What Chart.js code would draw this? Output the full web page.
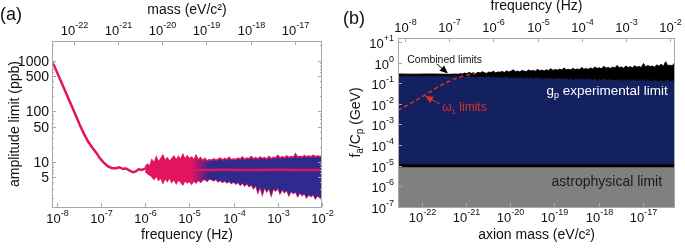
<!DOCTYPE html>
<html>
<head>
<meta charset="utf-8">
<script src="https://cdn.jsdelivr.net/npm/chart.js@4.4.0/dist/chart.umd.min.js"></script>
<style>
  html, body { margin: 0; padding: 0; background: #fff; }
  #wrap { position: relative; width: 685px; height: 248px; }
  canvas { position: absolute; top: 0; }
  #chartA { left: 0; }
  #chartB { left: 340px; }
</style>
</head>
<body>
<div id="wrap">
  <canvas id="chartA" width="340" height="248"></canvas>
  <canvas id="chartB" width="345" height="248"></canvas>
</div>
<script>
// Planck constant, used to place the mass axis against frequency
const H_EV_S = 4.135667e-15;

// ---- panel (a): amplitude limit (ppb) vs frequency (log10 Hz) ----
const A_LINE_LOGF = [-8.11, -7.8, -7.6, -7.48, -7.4, -7.3, -7.2, -7.1, -7.03, -6.95,
                     -6.85, -6.75, -6.65, -6.6, -6.55, -6.5, -6.45, -6.4, -6.35, -6.28,
                     -6.22, -6.15, -6.08, -6.0, -5.5, -5.0, -4.6, -4.2, -3.8, -3.4,
                     -3.0, -2.6, -2.2, -2.0];
const A_LINE_PPB = [1000, 240, 95, 54, 38, 26, 19.5, 15, 12, 10,
                    8.3, 7.6, 7.6, 7.9, 7.7, 7.3, 7.5, 7.2, 6.8, 6.3,
                    6.5, 7.2, 7.0, 7.5, 7.3, 7.1, 7.0, 7.05, 7.0, 7.0,
                    7.05, 7.0, 7.0, 7.0];

// noise band, sampled from log f = -6.0 in steps of 0.05
const A_BAND_LOGF0 = -6.0;
const A_BAND_STEP = 0.05;
const A_BAND_HI = [8.0, 9.0, 8.2, 11.0, 9.5, 12.5, 10.0, 11.5, 13.5, 10.5,
                   12.0, 10.2, 11.5, 13.0, 10.8, 12.8, 11.0, 14.0, 11.2, 13.2,
                   11.5, 12.5, 10.8, 13.5, 11.0, 12.2, 10.6, 11.8, 10.5, 11.2,
                   10.8, 11.6, 10.9, 11.4, 12.0, 11.0, 11.8, 11.2, 12.4, 11.0,
                   11.6, 11.2, 12.0, 11.4, 12.6, 11.3, 12.0, 11.6, 12.8, 11.5,
                   12.2, 11.6, 12.5, 11.8, 12.3, 11.5, 12.9, 11.7, 12.4, 11.9,
                   13.5, 12.0, 12.8, 12.1, 13.2, 12.2, 12.9, 12.3, 14.5, 12.4,
                   13.0, 12.5, 13.4, 12.6, 13.1, 12.7, 13.6, 12.8, 13.2, 12.9,
                   13.0];
const A_BAND_LO = [6.6, 6.0, 5.6, 5.2, 4.6, 5.4, 4.4, 5.0, 3.9, 4.8,
                   4.2, 5.0, 4.0, 4.6, 3.8, 4.5, 4.1, 3.6, 4.4, 3.9,
                   4.2, 3.7, 4.3, 3.9, 4.5, 4.0, 4.4, 4.6, 4.2, 4.7,
                   4.5, 4.3, 4.6, 4.1, 4.4, 4.0, 4.3, 3.9, 4.2, 3.8,
                   4.1, 3.7, 4.0, 3.5, 3.9, 3.4, 3.8, 3.3, 3.6, 3.0,
                   3.5, 2.5, 3.3, 2.3, 3.2, 2.6, 3.1, 2.2, 3.0, 2.7,
                   3.1, 2.4, 2.9, 2.5, 2.8, 2.2, 2.7, 2.4, 2.6, 2.1,
                   2.5, 2.2, 2.4, 2.0, 2.3, 2.1, 2.3, 1.9, 2.2, 2.0,
                   1.8];

const A_FREQ_EXP = [-8, -7, -6, -5, -4, -3, -2];
const A_MASS_EXP = [-22, -21, -20, -19, -18, -17];
const A_Y_TICKS = [1000, 500, 100, 50, 10, 5];

// ---- panel (b): f_a/C_p (GeV) vs frequency (log10 Hz) ----
const B_COMB_HEAD_LOGF = [-8.2, -7.8, -7.4, -7.0, -6.85];
const B_COMB_HEAD_LO = [0.23, 0.235, 0.23, 0.235, 0.23];
const B_COMB_HEAD_HI = [0.28, 0.275, 0.28, 0.27, 0.28];
const B_COMB_LOGF0 = -6.8;
const B_COMB_STEP = 0.05;
const B_COMB_LO = [0.23, 0.22, 0.23, 0.21, 0.22, 0.23, 0.21, 0.22, 0.20, 0.22,
                   0.21, 0.22, 0.20, 0.21, 0.22, 0.20, 0.21, 0.19, 0.21, 0.20,
                   0.20, 0.19, 0.21, 0.18, 0.20, 0.19, 0.20, 0.18, 0.19, 0.20,
                   0.17, 0.19, 0.18, 0.20, 0.17, 0.19, 0.18, 0.19, 0.17, 0.18,
                   0.18, 0.17, 0.19, 0.16, 0.18, 0.17, 0.18, 0.16, 0.17, 0.18,
                   0.16, 0.17, 0.15, 0.17, 0.16, 0.18, 0.15, 0.17, 0.16, 0.17,
                   0.16, 0.15, 0.17, 0.14, 0.16, 0.15, 0.17, 0.14, 0.16, 0.15,
                   0.16, 0.14, 0.15, 0.16, 0.13, 0.15, 0.14, 0.16, 0.14, 0.15,
                   0.15, 0.13, 0.15, 0.14, 0.16, 0.13, 0.15, 0.14, 0.13, 0.15,
                   0.14, 0.13, 0.15, 0.12, 0.14, 0.15, 0.13, 0.14, 0.12, 0.14];
const B_COMB_HI = [0.27, 0.29, 0.28, 0.31, 0.29, 0.33, 0.30, 0.32, 0.29, 0.34,
                   0.31, 0.36, 0.32, 0.30, 0.35, 0.33, 0.38, 0.32, 0.35, 0.34,
                   0.37, 0.33, 0.40, 0.35, 0.38, 0.45, 0.36, 0.39, 0.35, 0.42,
                   0.38, 0.37, 0.44, 0.39, 0.41, 0.38, 0.47, 0.40, 0.43, 0.39,
                   0.45, 0.41, 0.50, 0.42, 0.46, 0.43, 0.48, 0.44, 0.55, 0.45,
                   0.47, 0.44, 0.52, 0.46, 0.49, 0.45, 0.58, 0.48, 0.51, 0.47,
                   0.55, 0.49, 0.62, 0.52, 0.56, 0.50, 0.66, 0.54, 0.58, 0.52,
                   0.60, 0.55, 0.72, 0.57, 0.61, 0.54, 0.68, 0.58, 0.63, 0.56,
                   0.70, 0.60, 0.65, 0.58, 0.90, 0.62, 0.72, 0.64, 0.68, 0.60,
                   0.78, 0.66, 0.85, 0.65, 1.10, 0.70, 0.75, 0.68, 0.95, 0.72];
const B_OMEGA_LOGF = [-8.16, -7.8, -7.5, -7.3, -7.1, -6.95, -6.8, -6.65, -6.5, -6.4];
const B_OMEGA_GEV = [0.0048, 0.013, 0.031, 0.058, 0.1, 0.14, 0.19, 0.24, 0.27, 0.29];
const B_ASTRO_GEV = 1e-5;

const B_FREQ_EXP = [-8, -7, -6, -5, -4, -3, -2];
const B_MASS_EXP = [-22, -21, -20, -19, -18, -17];
const B_Y_EXP = [1, 0, -1, -2, -3, -4, -5, -6, -7];

// colours
const PINK = '#e3135f';
const BLUE = '#2f2a8e';
const NAVY = '#142160';
const GREY = '#808080';
const RED = '#e0302a';
const FRAME = '#a8a8a8';
const FONT = "'Liberation Sans', Arial, sans-serif";

const pts = (logf, vals) => vals.map((v, i) => ({ x: Math.pow(10, logf[i]), y: v }));
const gridPts = (f0, step, vals) => vals.map((v, i) => ({ x: Math.pow(10, f0 + i * step), y: v }));

// draws text runs with their own size and vertical shift (for super/subscripts)
function drawRich(ctx, parts, x, y, align) {
    let total = 0;
    for (const [t, s] of parts) { ctx.font = s + 'px ' + FONT; total += ctx.measureText(t).width; }
    let cx = align === 'center' ? x - total / 2 : align === 'right' ? x - total : x;
    ctx.textAlign = 'left';
    ctx.textBaseline = 'alphabetic';
    for (const [t, s, dy] of parts) {
        ctx.font = s + 'px ' + FONT;
        ctx.fillText(t, cx, y + dy);
        cx += ctx.measureText(t).width;
    }
}

function pow10(e) {
    return [['10', 13, 0], [String(e), 9, -7]];
}

function drawArrow(ctx, x0, y0, x1, y1, color) {
    const ang = Math.atan2(y1 - y0, x1 - x0);
    ctx.strokeStyle = color; ctx.fillStyle = color; ctx.lineWidth = 1;
    ctx.beginPath(); ctx.moveTo(x0, y0); ctx.lineTo(x1 - 5 * Math.cos(ang), y1 - 5 * Math.sin(ang)); ctx.stroke();
    ctx.beginPath();
    ctx.moveTo(x1, y1);
    ctx.lineTo(x1 - 8 * Math.cos(ang) + 3.5 * Math.sin(ang), y1 - 8 * Math.sin(ang) - 3.5 * Math.cos(ang));
    ctx.lineTo(x1 - 8 * Math.cos(ang) - 3.5 * Math.sin(ang), y1 - 8 * Math.sin(ang) + 3.5 * Math.cos(ang));
    ctx.closePath(); ctx.fill();
}

// fixed axis boxes so the plot area lands where the figure has it
const fixH = h => s => { s.height = h; };
const fixW = w => s => { s.width = w; };
const hiddenAxis = {
    ticks: { display: false },
    grid: { display: false },
    border: { display: false }
};

// ---------- panel (a) ----------
const panelA = {
    id: 'panelA',
    afterDraw(chart) {
        const { ctx, chartArea: a, scales } = chart;
        const xs = scales.x, ys = scales.y;
        ctx.save();
        ctx.strokeStyle = FRAME; ctx.lineWidth = 1;
        ctx.strokeRect(a.left + 0.5, a.top + 0.5, a.right - a.left - 1, a.bottom - a.top);
        ctx.fillStyle = '#111';

        ctx.beginPath();
        A_FREQ_EXP.forEach(e => {
            const px = Math.round(xs.getPixelForValue(Math.pow(10, e))) + 0.5;
            ctx.moveTo(px, a.bottom); ctx.lineTo(px, a.bottom - 4);
            drawRich(ctx, pow10(e), px, 223, 'center');
        });
        A_MASS_EXP.forEach(e => {
            const px = Math.round(xs.getPixelForValue(Math.pow(10, e) / H_EV_S)) + 0.5;
            ctx.moveTo(px, a.top); ctx.lineTo(px, a.top + 4);
            drawRich(ctx, pow10(e), px, 35, 'center');
        });
        for (let d = 0; d <= 3; d++) {
            for (let k = 1; k <= 9; k++) {
                const v = k * Math.pow(10, d);
                if (v < ys.min || v > ys.max) continue;
                const py = Math.round(ys.getPixelForValue(v)) + 0.5;
                const len = k === 1 || k === 5 ? 4 : 2;
                ctx.moveTo(a.left, py); ctx.lineTo(a.left + len, py);
                ctx.moveTo(a.right, py); ctx.lineTo(a.right - len, py);
            }
        }
        ctx.stroke();

        A_Y_TICKS.forEach(v => {
            const py = ys.getPixelForValue(v);
            drawRich(ctx, [[String(v), 14, 0]], a.left - 3, py + 5, 'right');
        });

        drawRich(ctx, [['mass (eV/c²)', 14, 0]], (a.left + a.right) / 2, 13.5, 'center');
        drawRich(ctx, [['frequency (Hz)', 14, 0]], (a.left + a.right) / 2, 239, 'center');
        drawRich(ctx, [['(a)', 18, 0]], 0, 20, 'left');

        ctx.translate(19, (a.top + a.bottom) / 2);
        ctx.rotate(-Math.PI / 2);
        drawRich(ctx, [['amplitude limit (ppb)', 14, 0]], 0, 0, 'center');
        ctx.restore();
    }
};

new Chart(document.getElementById('chartA'), {
    type: 'line',
    data: {
        datasets: [
            { data: pts(A_LINE_LOGF, A_LINE_PPB), borderColor: PINK, borderWidth: 2.5, fill: false },
            {
                data: gridPts(A_BAND_LOGF0, A_BAND_STEP, A_BAND_HI), borderColor: PINK, borderWidth: 1.5, fill: '+1',
                backgroundColor: c => {
                    const ch = c.chart;
                    if (!ch.chartArea) return PINK;
                    const x0 = ch.scales.x.getPixelForValue(Math.pow(10, -4.95));
                    const x1 = ch.scales.x.getPixelForValue(Math.pow(10, -4.55));
                    const g = ch.ctx.createLinearGradient(x0, 0, x1, 0);
                    g.addColorStop(0, PINK);
                    g.addColorStop(1, BLUE);
                    return g;
                }
            },
            { data: gridPts(A_BAND_LOGF0, A_BAND_STEP, A_BAND_LO), borderColor: PINK, borderWidth: 1.5, fill: false }
        ]
    },
    options: {
        responsive: false,
        animation: false,
        devicePixelRatio: 1,
        elements: { point: { radius: 0 }, line: { tension: 0 } },
        layout: { padding: { top: 41, right: 18, left: 0, bottom: 0 } },
        plugins: { legend: { display: false }, tooltip: { enabled: false } },
        scales: {
            x: { type: 'logarithmic', position: 'bottom', min: Math.pow(10, -8.11), max: 1e-2, afterFit: fixH(41), ...hiddenAxis },
            y: { type: 'logarithmic', position: 'left', min: 1.3, max: 2450, afterFit: fixW(52), ...hiddenAxis }
        }
    },
    plugins: [panelA]
});

// ---------- panel (b) ----------
const panelB = {
    id: 'panelB',
    afterDraw(chart) {
        const { ctx, chartArea: a, scales } = chart;
        const xs = scales.x, ys = scales.y;
        const X = lf => xs.getPixelForValue(Math.pow(10, lf));
        const Y = v => ys.getPixelForValue(v);
        ctx.save();
        ctx.strokeStyle = FRAME; ctx.lineWidth = 1;
        ctx.strokeRect(a.left + 0.5, a.top + 0.5, a.right - a.left - 1, a.bottom - a.top);
        ctx.fillStyle = '#111';

        ctx.beginPath();
        B_FREQ_EXP.forEach(e => {
            const px = Math.round(X(e)) + 0.5;
            ctx.moveTo(px, a.top); ctx.lineTo(px, a.top + 4);
            drawRich(ctx, pow10(e), px, 32, 'center');
        });
        B_MASS_EXP.forEach(e => {
            const px = Math.round(xs.getPixelForValue(Math.pow(10, e) / H_EV_S)) + 0.5;
            ctx.moveTo(px, a.bottom); ctx.lineTo(px, a.bottom - 4);
            drawRich(ctx, pow10(e), px, 222, 'center');
        });
        B_Y_EXP.forEach(e => {
            const py = Math.round(Y(Math.pow(10, e))) + 0.5;
            ctx.moveTo(a.left, py); ctx.lineTo(a.left + 4, py);
            const lbl = e > 0 ? '+' + e : String(e);
            drawRich(ctx, [['10', 13, 0], [lbl, 9, -7]], a.left - 4, py + 5, 'right');
        });
        ctx.stroke();

        // annotations
        ctx.fillStyle = '#111';
        drawRich(ctx, [['Combined limits', 10.5, 0]], X(-7.95), Y(0.95), 'left');
        drawArrow(ctx, X(-7.28), Y(0.86), X(-7.03), Y(0.3), '#000');
        ctx.fillStyle = RED;
        drawRich(ctx, [['ω', 12, 0], ['1', 8, 3], [' limits', 12, 0]], X(-7.16), Y(0.0045), 'left');
        drawArrow(ctx, X(-7.21), Y(0.0098), X(-7.55), Y(0.024), RED);
        ctx.fillStyle = '#fff';
        drawRich(ctx, [['g', 13.5, 0], ['p', 9, 3], [' experimental limit', 13.5, 0]], X(-2.05), Y(0.027), 'right');
        ctx.fillStyle = '#1a1a1a';
        drawRich(ctx, [['astrophysical limit', 14, 0]], X(-2.18), Y(1.0e-6), 'right');

        ctx.fillStyle = '#111';
        drawRich(ctx, [['frequency (Hz)', 14, 0]], (a.left + a.right) / 2, 10, 'center');
        drawRich(ctx, [['axion mass (eV/c²)', 14, 0]], (a.left + a.right) / 2, 239, 'center');
        drawRich(ctx, [['(b)', 18, 0]], 3, 24, 'left');

        ctx.translate(20, (a.top + a.bottom) / 2);
        ctx.rotate(-Math.PI / 2);
        drawRich(ctx, [['f', 14, 0], ['a', 10, 3], ['/C', 14, 0], ['p', 10, 3], [' (GeV)', 14, 0]], 0, 0, 'center');
        ctx.restore();
    }
};

const B_XMIN = Math.pow(10, -8.16);
const B_XMAX = Math.pow(10, -1.887);

new Chart(document.getElementById('chartB'), {
    type: 'line',
    data: {
        datasets: [
            { data: pts(B_OMEGA_LOGF, B_OMEGA_GEV), borderColor: RED, borderWidth: 1.5, borderDash: [4, 3], fill: false, order: 0 },
            { data: [{ x: B_XMIN, y: B_ASTRO_GEV }, { x: B_XMAX, y: B_ASTRO_GEV }], borderColor: '#000', borderWidth: 3, fill: 'start', backgroundColor: GREY, order: 1 },
            {
                data: pts(B_COMB_HEAD_LOGF, B_COMB_HEAD_HI).concat(gridPts(B_COMB_LOGF0, B_COMB_STEP, B_COMB_HI)),
                borderColor: '#000', borderWidth: 1, fill: '+1', backgroundColor: '#000', order: 2
            },
            {
                data: pts(B_COMB_HEAD_LOGF, B_COMB_HEAD_LO).concat(gridPts(B_COMB_LOGF0, B_COMB_STEP, B_COMB_LO)),
                borderColor: '#000', borderWidth: 1, fill: { value: B_ASTRO_GEV }, backgroundColor: NAVY, order: 3
            }
        ]
    },
    options: {
        responsive: false,
        animation: false,
        devicePixelRatio: 1,
        elements: { point: { radius: 0 }, line: { tension: 0 } },
        layout: { padding: { top: 38, right: 10, left: 0, bottom: 0 } },
        plugins: { legend: { display: false }, tooltip: { enabled: false } },
        scales: {
            x: { type: 'logarithmic', position: 'bottom', min: B_XMIN, max: B_XMAX, afterFit: fixH(41), ...hiddenAxis },
            y: { type: 'logarithmic', position: 'left', min: 1e-7, max: 15.6, afterFit: fixW(58), ...hiddenAxis }
        }
    },
    plugins: [panelB]
});
</script>
</body>
</html>
